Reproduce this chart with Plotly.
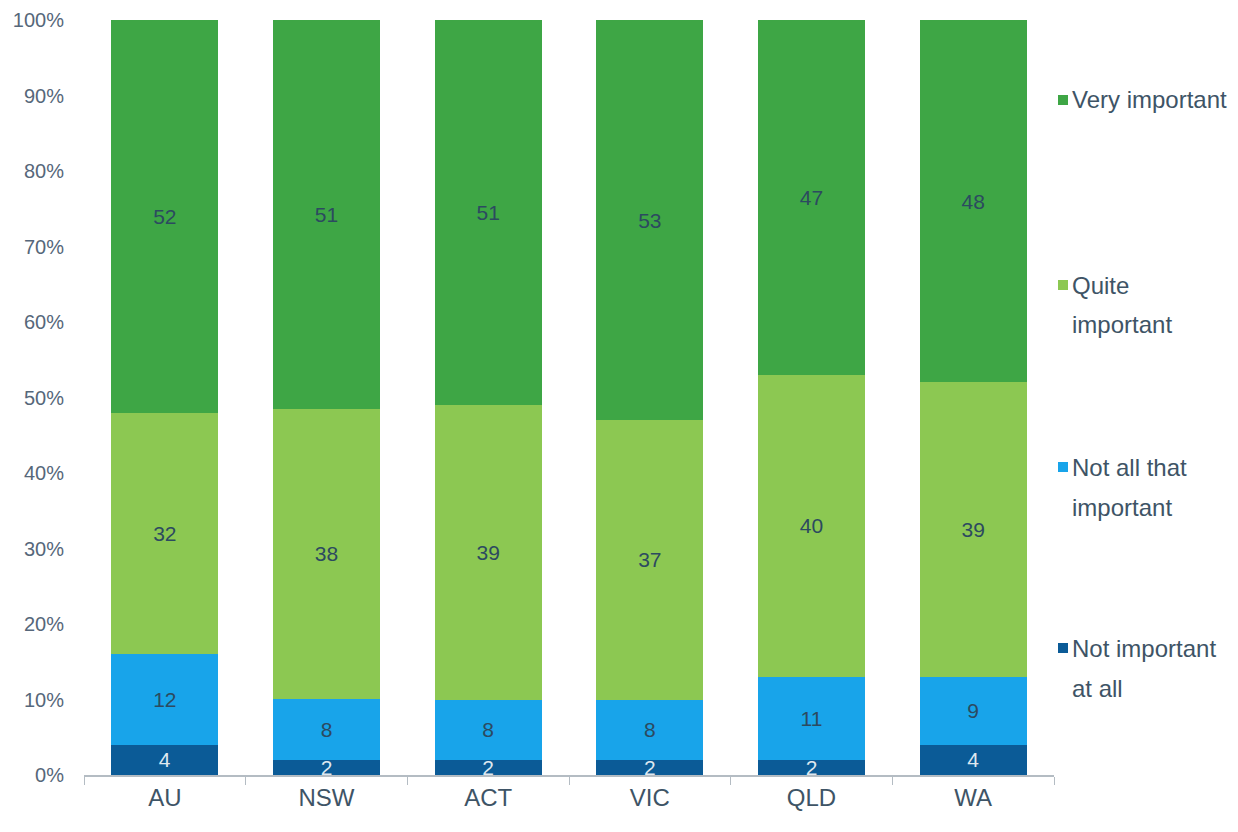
import plotly.graph_objects as go

categories = ["AU", "NSW", "ACT", "VIC", "QLD", "WA"]
not_important = [4, 2, 2, 2, 2, 4]
not_all_that = [12, 8, 8, 8, 11, 9]
quite = [32, 38, 39, 37, 40, 39]
very = [52, 51, 51, 53, 47, 48]

y_ticks = [0, 10, 20, 30, 40, 50, 60, 70, 80, 90, 100]
y_tick_labels = [f"{t}%" for t in y_ticks]

series = [
    ("Not important at all", ["Not important", "at all"], not_important, "#0b5b97", "#dfe8f0"),
    ("Not all that important", ["Not all that", "important"], not_all_that, "#18a4ea", "#2c4a60"),
    ("Quite important", ["Quite", "important"], quite, "#8cc852", "#2c4a60"),
    ("Very important", ["Very important"], very, "#3ea645", "#2c4a60"),
]

FONT = "Liberation Sans, Arial, sans-serif"

fig = go.Figure()
for name, lines, vals, color, tcolor in series:
    fig.add_trace(go.Bar(
        x=categories, y=vals, name=name,
        marker=dict(color=color, line=dict(width=0)),
        text=[str(v) for v in vals],
        textposition="inside", insidetextanchor="middle", textangle=0,
        constraintext="none",
        textfont=dict(family=FONT, size=21, color=tcolor),
        showlegend=False,
        hoverinfo="x+y+name",
    ))

# Legend drawn as annotations (page px -> paper coords)
PX0, PW = 84, 970
PY0, PH = 775, 755

def px(p):
    return (p - PX0) / PW

def py(p):
    return (PY0 - p) / PH

legend_first_line_y = {"Very important": 100, "Quite important": 285,
                       "Not all that important": 467, "Not important at all": 648}
line_gap = 40
for name, lines, vals, color, tcolor in series:
    y0 = legend_first_line_y[name]
    fig.add_shape(type="rect", xref="paper", yref="paper",
                  x0=px(1058), x1=px(1068), y0=py(y0 - 5), y1=py(y0 + 5),
                  fillcolor=color, line=dict(width=0))
    for k, ln in enumerate(lines):
        fig.add_annotation(text=ln, xref="paper", yref="paper",
                           x=px(1070), y=py(y0 + k * line_gap),
                           xanchor="left", yanchor="middle", showarrow=False,
                           font=dict(family=FONT, size=24, color="#3e5466"))

fig.update_layout(
    barmode="stack", barnorm="percent", bargap=0.34,
    width=1238, height=832,
    margin=dict(l=76, r=192, t=12, b=65, autoexpand=False),
    paper_bgcolor="white", plot_bgcolor="white",
    font=dict(family=FONT, color="#4a5868"),
    showlegend=False,
)
fig.update_xaxes(
    showline=True, linecolor="#b4bcc3", linewidth=1.5,
    ticks="outside", tickson="boundaries", ticklen=8, tickcolor="#b4bcc3",
    tickfont=dict(family=FONT, size=24, color="#3e5466"),
    showgrid=False, automargin=False,
)
fig.update_yaxes(
    range=[0, 100], tickmode="array", tickvals=y_ticks, ticktext=y_tick_labels,
    showgrid=False, zeroline=False, showline=False,
    tickfont=dict(family=FONT, size=20, color="#56677a"),
    ticks="outside", ticklen=15, tickcolor="rgba(0,0,0,0)",
    automargin=False,
)

fig.write_html("out.html")
